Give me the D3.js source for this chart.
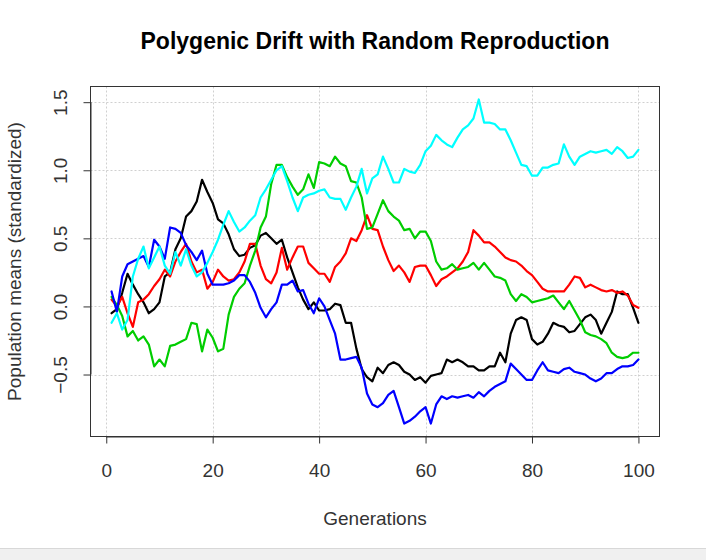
<!DOCTYPE html>
<html>
<head>
<meta charset="utf-8">
<script src="https://cdn.jsdelivr.net/npm/d3@7"></script>
<style>
  body { margin: 0; background: #ffffff; }
  svg { display: block; font-family: "Liberation Sans", Arial, sans-serif; }
</style>
</head>
<body>
<svg id="drawing_region"></svg>
<script>
// generation numbers 1..100
const generations = d3.range(1, 101);

const blackVals = [-0.05, -0.02, 0.10, 0.24, 0.16, 0.09, 0.03, -0.05, -0.02, 0.03,
  0.22, 0.25, 0.42, 0.50, 0.66, 0.70, 0.77, 0.93, 0.84, 0.76,
  0.64, 0.61, 0.53, 0.42, 0.37, 0.38, 0.43, 0.45, 0.52, 0.54,
  0.50, 0.46, 0.49, 0.36, 0.25, 0.14, 0.05, -0.02, 0.03, -0.03,
  -0.03, -0.02, 0.02, 0.01, -0.12, -0.12, -0.31, -0.46, -0.52, -0.55,
  -0.45, -0.49, -0.43, -0.41, -0.43, -0.48, -0.50, -0.54, -0.52, -0.56,
  -0.51, -0.50, -0.49, -0.39, -0.41, -0.39, -0.41, -0.44, -0.44, -0.47,
  -0.47, -0.44, -0.44, -0.34, -0.41, -0.20, -0.10, -0.08, -0.10, -0.24,
  -0.28, -0.26, -0.20, -0.12, -0.14, -0.15, -0.19, -0.18, -0.13, -0.08,
  -0.06, -0.10, -0.20, -0.12, -0.04, 0.11, 0.09, 0.09, -0.01, -0.12];

const redVals = [0.05, 0.00, 0.07, -0.05, -0.15, 0.03, 0.05, 0.09, 0.15, 0.20,
  0.27, 0.22, 0.33, 0.40, 0.46, 0.33, 0.25, 0.27, 0.13, 0.18,
  0.27, 0.22, 0.19, 0.20, 0.25, 0.33, 0.46, 0.46, 0.30, 0.20,
  0.17, 0.25, 0.43, 0.27, 0.36, 0.44, 0.44, 0.32, 0.28, 0.24,
  0.24, 0.18, 0.29, 0.33, 0.39, 0.50, 0.48, 0.56, 0.67, 0.57,
  0.56, 0.44, 0.34, 0.26, 0.30, 0.25, 0.18, 0.29, 0.30, 0.30,
  0.23, 0.15, 0.20, 0.22, 0.25, 0.28, 0.33, 0.40, 0.56, 0.52,
  0.47, 0.47, 0.44, 0.40, 0.36, 0.34, 0.33, 0.30, 0.26, 0.23,
  0.18, 0.13, 0.11, 0.11, 0.11, 0.11, 0.16, 0.22, 0.21, 0.14,
  0.16, 0.14, 0.12, 0.11, 0.12, 0.10, 0.11, 0.08, 0.01, -0.01];

const greenVals = [0.07, 0.01, -0.07, -0.22, -0.18, -0.25, -0.22, -0.28, -0.44, -0.39,
  -0.44, -0.29, -0.28, -0.26, -0.24, -0.12, -0.13, -0.33, -0.17, -0.23,
  -0.33, -0.31, -0.06, 0.07, 0.13, 0.17, 0.30, 0.41, 0.58, 0.66,
  0.90, 1.04, 1.04, 0.95, 0.88, 0.82, 0.86, 0.97, 0.87, 1.06,
  1.05, 1.03, 1.10, 1.05, 1.03, 0.92, 0.91, 0.80, 0.57, 0.58,
  0.68, 0.78, 0.70, 0.66, 0.63, 0.56, 0.57, 0.50, 0.55, 0.55,
  0.48, 0.33, 0.27, 0.28, 0.31, 0.27, 0.28, 0.29, 0.32, 0.27,
  0.32, 0.27, 0.22, 0.21, 0.19, 0.09, 0.04, 0.09, 0.07, 0.03,
  0.04, 0.05, 0.06, 0.08, 0.03, -0.02, 0.04, -0.03, -0.10, -0.19,
  -0.21, -0.22, -0.24, -0.27, -0.34, -0.37, -0.38, -0.37, -0.34, -0.34];

const blueVals = [0.11, -0.04, 0.22, 0.31, 0.33, 0.35, 0.37, 0.29, 0.49, 0.44,
  0.35, 0.58, 0.57, 0.54, 0.45, 0.40, 0.34, 0.41, 0.24, 0.16,
  0.16, 0.16, 0.17, 0.19, 0.23, 0.23, 0.18, 0.10, -0.01, -0.08,
  -0.02, 0.03, 0.16, 0.16, 0.19, 0.11, 0.12, 0.02, -0.05, 0.06,
  0.00, -0.10, -0.20, -0.39, -0.39, -0.38, -0.37, -0.45, -0.64, -0.72,
  -0.74, -0.71, -0.65, -0.62, -0.74, -0.86, -0.84, -0.81, -0.77, -0.74,
  -0.86, -0.72, -0.66, -0.68, -0.66, -0.67, -0.66, -0.65, -0.67, -0.63,
  -0.66, -0.62, -0.59, -0.57, -0.55, -0.42, -0.46, -0.50, -0.54, -0.54,
  -0.47, -0.41, -0.47, -0.48, -0.49, -0.46, -0.45, -0.48, -0.49, -0.50,
  -0.53, -0.55, -0.53, -0.49, -0.49, -0.46, -0.44, -0.44, -0.43, -0.39];

const cyanVals = [-0.12, -0.05, -0.17, -0.10, 0.22, 0.35, 0.44, 0.28, 0.36, 0.44,
  0.30, 0.24, 0.40, 0.30, 0.42, 0.30, 0.22, 0.25, 0.32, 0.40,
  0.49, 0.60, 0.70, 0.62, 0.55, 0.58, 0.63, 0.67, 0.80, 0.86,
  0.93, 1.00, 1.03, 0.92, 0.80, 0.70, 0.80, 0.82, 0.83, 0.85,
  0.86, 0.80, 0.79, 0.79, 0.71, 0.80, 0.88, 1.01, 0.83, 0.94,
  0.97, 1.10, 1.01, 0.91, 0.91, 1.01, 0.99, 0.98, 1.04, 1.14,
  1.18, 1.26, 1.22, 1.19, 1.17, 1.24, 1.30, 1.33, 1.38, 1.52,
  1.35, 1.35, 1.34, 1.30, 1.30, 1.22, 1.13, 1.04, 1.03, 0.96,
  0.96, 1.02, 1.02, 1.04, 1.05, 1.19, 1.10, 1.04, 1.10, 1.12,
  1.14, 1.13, 1.14, 1.15, 1.12, 1.17, 1.14, 1.09, 1.10, 1.15];

const seriesVals = [blackVals, redVals, greenVals, blueVals, cyanVals];
const seriesColors = ["#000000", "#ff0000", "#00cd00", "#0000ff", "#00ffff"];

const xTicks = [0, 20, 40, 60, 80, 100];
const yTicks = [-0.5, 0.0, 0.5, 1.0, 1.5];

const config = {
    width: 706,
    height: 560,
    plot: {left: 90.5, right: 659.5, top: 86.5, bottom: 436.5}
};

const svg = d3.select('#drawing_region')
    .attr('width', config.width)
    .attr('height', config.height);

svg.append('rect')
    .attr('width', config.width)
    .attr('height', config.height)
    .attr('fill', '#ffffff');

// R style: extend the data range by 4% on each side
const xmin = d3.min(generations), xmax = d3.max(generations);
const xpad = (xmax - xmin) * 0.04;
const xscale = d3.scaleLinear()
    .domain([xmin - xpad, xmax + xpad])
    .range([config.plot.left, config.plot.right]);

const allVals = seriesVals.flat();
const ymin = d3.min(allVals), ymax = d3.max(allVals);
const ypad = (ymax - ymin) * 0.04;
const yscale = d3.scaleLinear()
    .domain([ymin - ypad, ymax + ypad])
    .range([config.plot.bottom, config.plot.top]);

// grid
const grid = svg.append('g')
    .attr('stroke', '#d0d0d0')
    .attr('stroke-width', 1)
    .attr('stroke-dasharray', '2,2');

grid.selectAll('.vgrid')
    .data(xTicks)
    .join('line')
    .attr('x1', d => Math.round(xscale(d)) + 0.5)
    .attr('x2', d => Math.round(xscale(d)) + 0.5)
    .attr('y1', config.plot.top)
    .attr('y2', config.plot.bottom);

grid.selectAll('.hgrid')
    .data(yTicks)
    .join('line')
    .attr('y1', d => Math.round(yscale(d)) + 0.5)
    .attr('y2', d => Math.round(yscale(d)) + 0.5)
    .attr('x1', config.plot.left)
    .attr('x2', config.plot.right);

// lines
const line = d3.line()
    .x((d, i) => xscale(generations[i]))
    .y(d => yscale(d));

svg.append('clipPath').attr('id', 'plotclip')
    .append('rect')
    .attr('x', config.plot.left)
    .attr('y', config.plot.top)
    .attr('width', config.plot.right - config.plot.left)
    .attr('height', config.plot.bottom - config.plot.top);

svg.append('g')
    .attr('clip-path', 'url(#plotclip)')
    .selectAll('path')
    .data(seriesVals)
    .join('path')
    .attr('d', d => line(d))
    .attr('fill', 'none')
    .attr('stroke', (d, i) => seriesColors[i])
    .attr('stroke-width', 2.2)
    .attr('stroke-linejoin', 'round')
    .attr('stroke-linecap', 'round');

// box
svg.append('rect')
    .attr('x', config.plot.left)
    .attr('y', config.plot.top)
    .attr('width', config.plot.right - config.plot.left)
    .attr('height', config.plot.bottom - config.plot.top)
    .attr('fill', 'none')
    .attr('stroke', '#333333')
    .attr('stroke-width', 1);

// axes
const tickFont = '19px';

const xaxis = d3.axisBottom(xscale)
    .tickValues(xTicks)
    .tickSize(7)
    .tickPadding(20)
    .tickFormat(d3.format('d'));

const xaxis_group = svg.append('g')
    .attr('transform', `translate(0, ${config.plot.bottom})`)
    .call(xaxis);

xaxis_group.select('.domain')
    .attr('d', `M${xscale(0)},0.5H${xscale(100)}`)
    .attr('stroke', '#333333');

xaxis_group.selectAll('text')
    .attr('font-size', tickFont)
    .attr('fill', '#333333')
    .attr('font-family', '"Liberation Sans", Arial, sans-serif');

xaxis_group.selectAll('.tick line').attr('stroke', '#333333');

const yaxis = d3.axisLeft(yscale)
    .tickValues(yTicks)
    .tickSize(7)
    .tickPadding(0)
    .tickFormat(d3.format('.1f'));

const yaxis_group = svg.append('g')
    .attr('transform', `translate(${config.plot.left}, 0)`)
    .call(yaxis);

yaxis_group.select('.domain')
    .attr('d', `M0.5,${yscale(-0.5)}V${yscale(1.5)}`)
    .attr('stroke', '#333333');

yaxis_group.selectAll('.tick line').attr('stroke', '#333333');

yaxis_group.selectAll('text')
    .attr('font-size', tickFont)
    .attr('fill', '#333333')
    .attr('font-family', '"Liberation Sans", Arial, sans-serif')
    .attr('text-anchor', 'middle')
    .attr('x', null)
    .attr('dy', null)
    .attr('transform', 'translate(-23.5, 0) rotate(-90)');

// title and labels
svg.append('text')
    .attr('x', (config.plot.left + config.plot.right) / 2)
    .attr('y', 49)
    .attr('text-anchor', 'middle')
    .attr('font-size', '23px')
    .attr('font-weight', 'bold')
    .attr('fill', '#000000')
    .text('Polygenic Drift with Random Reproduction');

svg.append('text')
    .attr('x', (config.plot.left + config.plot.right) / 2)
    .attr('y', 525)
    .attr('text-anchor', 'middle')
    .attr('font-size', '19px')
    .attr('fill', '#333333')
    .text('Generations');

svg.append('text')
    .attr('transform', `translate(21, ${(config.plot.top + config.plot.bottom) / 2}) rotate(-90)`)
    .attr('text-anchor', 'middle')
    .attr('font-size', '19px')
    .attr('fill', '#333333')
    .text('Population means (standardized)');

// strip at the bottom of the window
svg.append('rect')
    .attr('x', 0)
    .attr('y', 548)
    .attr('width', config.width)
    .attr('height', 12)
    .attr('fill', '#f0f0f0');
svg.append('line')
    .attr('x1', 0).attr('x2', config.width)
    .attr('y1', 548.5).attr('y2', 548.5)
    .attr('stroke', '#d8d8d8');
</script>
</body>
</html>
